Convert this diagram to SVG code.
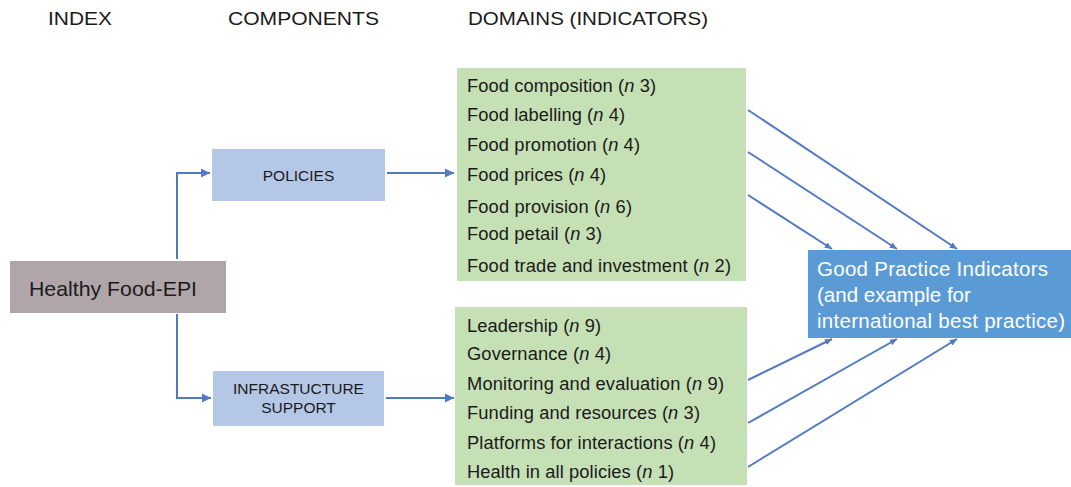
<svg xmlns="http://www.w3.org/2000/svg" width="1071" height="487" viewBox="0 0 1071 487">
<defs>
<style>
text{font-family:"Liberation Sans",Arial,sans-serif;fill:#1a1a1a}
.hdr{font-size:19px}
.comp{font-size:15.5px}
.dom{font-size:18.3px}
.gpi{font-size:20.5px;fill:#ffffff}
.conn{stroke:#5179c4;stroke-width:2;fill:none}
</style>
<marker id="arr" markerUnits="userSpaceOnUse" markerWidth="10" markerHeight="10" viewBox="0 0 10 10" refX="9" refY="5" orient="auto">
<path d="M0,0.5 L9,5 L0,9.5 Z" fill="#5179c4"/>
</marker>
<marker id="arrs" markerUnits="userSpaceOnUse" markerWidth="8" markerHeight="8" viewBox="0 0 10 10" refX="9" refY="5" orient="auto">
<path d="M0,1 L9,5 L0,9 Z" fill="#5179c4"/>
</marker>
</defs>
<rect width="1071" height="487" fill="#ffffff"/>

<g id="headers">
<text class="hdr" x="48" y="25" textLength="64" lengthAdjust="spacingAndGlyphs">INDEX</text>
<text class="hdr" x="228" y="25" textLength="151" lengthAdjust="spacingAndGlyphs">COMPONENTS</text>
<text class="hdr" x="468" y="25" textLength="240" lengthAdjust="spacingAndGlyphs">DOMAINS (INDICATORS)</text>
</g>

<g id="connectors">
<path class="conn" d="M177,259 V173 H210" marker-end="url(#arr)"/>
<path class="conn" d="M177,314 V398 H211" marker-end="url(#arr)"/>
<path class="conn" d="M387,173 H454" marker-end="url(#arr)"/>
<path class="conn" d="M386,398 H454" marker-end="url(#arr)"/>
<path class="conn" d="M748,110 L957,249" marker-end="url(#arrs)"/>
<path class="conn" d="M748,152 L897,249" marker-end="url(#arrs)"/>
<path class="conn" d="M748,195 L832,249" marker-end="url(#arrs)"/>
<path class="conn" d="M748,380 L832,339" marker-end="url(#arrs)"/>
<path class="conn" d="M748,423 L897,339" marker-end="url(#arrs)"/>
<path class="conn" d="M748,467 L957,339" marker-end="url(#arrs)"/>
</g>

<g id="index">
<rect x="10" y="261" width="216" height="52" fill="#b0a6aa"/>
<text x="29" y="296" font-size="21" textLength="168" lengthAdjust="spacingAndGlyphs">Healthy Food-EPI</text>
</g>

<g id="policies">
<rect x="212" y="149" width="173" height="52" fill="#b4c7e7"/>
<text class="comp" x="298.5" y="181" text-anchor="middle">POLICIES</text>
</g>

<g id="infrastructure">
<rect x="213" y="371" width="171" height="55" fill="#b4c7e7"/>
<text class="comp" x="298.5" y="394" text-anchor="middle">INFRASTUCTURE</text>
<text class="comp" x="298.5" y="413" text-anchor="middle">SUPPORT</text>
</g>

<g id="policy-domains">
<rect x="457" y="68" width="289" height="213" fill="#c6e0b5"/>
<text class="dom" x="467" y="92" textLength="189">Food composition (<tspan font-style="italic">n</tspan> 3)</text>
<text class="dom" x="467" y="121" textLength="158">Food labelling (<tspan font-style="italic">n</tspan> 4)</text>
<text class="dom" x="467" y="151" textLength="173">Food promotion (<tspan font-style="italic">n</tspan> 4)</text>
<text class="dom" x="467" y="181" textLength="139">Food prices (<tspan font-style="italic">n</tspan> 4)</text>
<text class="dom" x="467" y="213" textLength="165">Food provision (<tspan font-style="italic">n</tspan> 6)</text>
<text class="dom" x="467" y="240" textLength="135">Food petail (<tspan font-style="italic">n</tspan> 3)</text>
<text class="dom" x="467" y="272" textLength="264">Food trade and investment (<tspan font-style="italic">n</tspan> 2)</text>
</g>

<g id="infrastructure-domains">
<rect x="455" y="307" width="292" height="178" fill="#c6e0b5"/>
<text class="dom" x="467" y="332" textLength="134">Leadership (<tspan font-style="italic">n</tspan> 9)</text>
<text class="dom" x="467" y="360" textLength="144">Governance (<tspan font-style="italic">n</tspan> 4)</text>
<text class="dom" x="467" y="390" textLength="257">Monitoring and evaluation (<tspan font-style="italic">n</tspan> 9)</text>
<text class="dom" x="467" y="419" textLength="233">Funding and resources (<tspan font-style="italic">n</tspan> 3)</text>
<text class="dom" x="467" y="449" textLength="249">Platforms for interactions (<tspan font-style="italic">n</tspan> 4)</text>
<text class="dom" x="467" y="478" textLength="207">Health in all policies (<tspan font-style="italic">n</tspan> 1)</text>
</g>

<g id="good-practice">
<rect x="808" y="250" width="263" height="88" fill="#5b9bd5"/>
<text class="gpi" x="817" y="276" textLength="231">Good Practice Indicators</text>
<text class="gpi" x="817" y="302">(and example for</text>
<text class="gpi" x="817" y="328" textLength="248">international best practice)</text>
</g>
</svg>
